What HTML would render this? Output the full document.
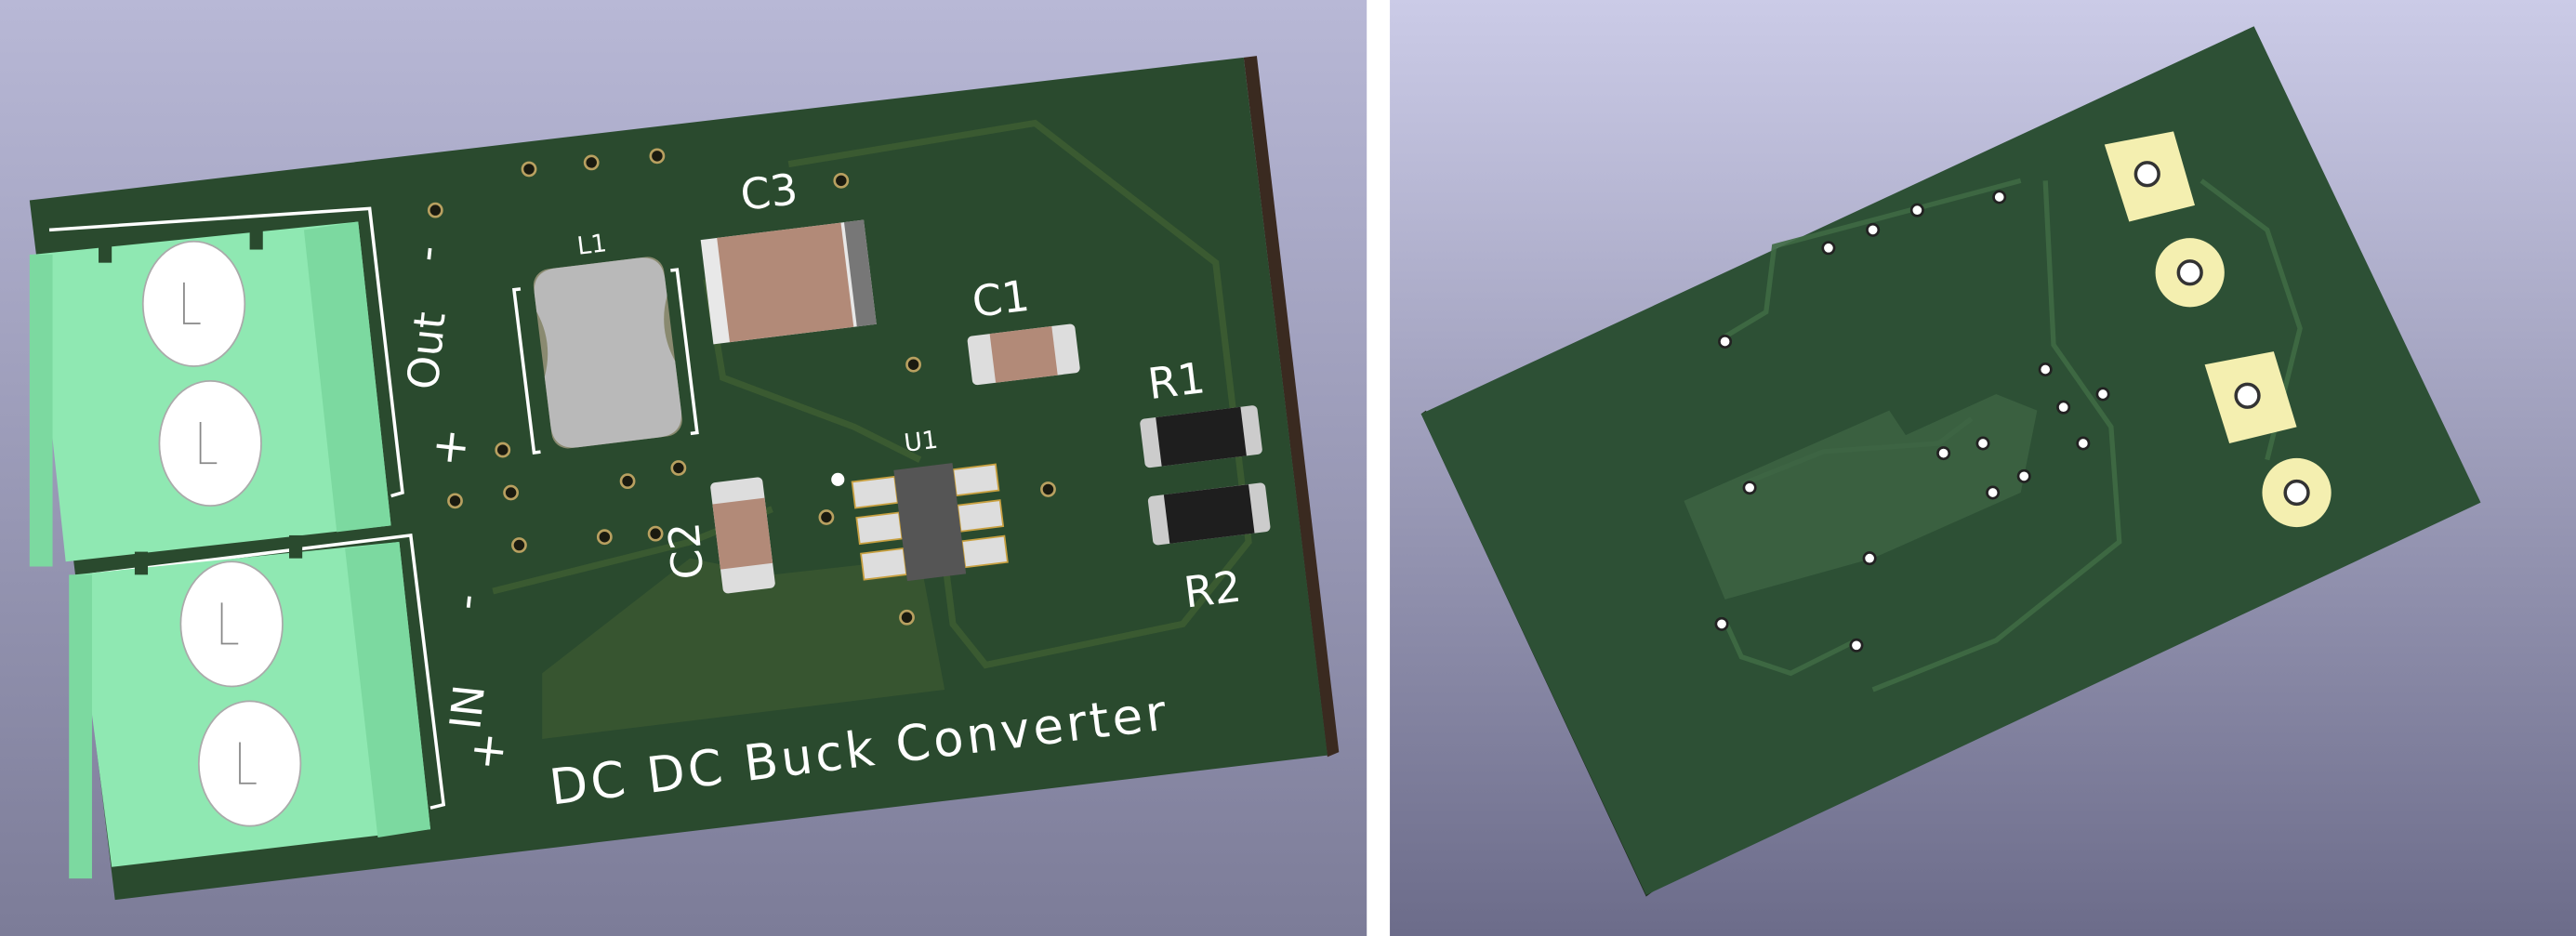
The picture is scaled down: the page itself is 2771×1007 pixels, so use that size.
<!DOCTYPE html>
<html><head><meta charset="utf-8"><style>
html,body{margin:0;padding:0;background:#fff}
svg{display:block}
text{font-family:"DejaVu Sans","Liberation Sans",sans-serif;fill:#fff}
</style></head><body>
<svg width="2771" height="1007" viewBox="0 0 1568 570" preserveAspectRatio="none" xmlns="http://www.w3.org/2000/svg">
<defs>
<linearGradient id="bgL" x1="0" y1="0" x2="0" y2="1"><stop offset="0" stop-color="#b8b8d6"/><stop offset="1" stop-color="#7c7c98"/></linearGradient>
<linearGradient id="bgR" x1="0" y1="0" x2="0" y2="1"><stop offset="0" stop-color="#cbcbe7"/><stop offset="1" stop-color="#6c6c8a"/></linearGradient>
</defs>
<rect x="0" y="0" width="832" height="570" fill="url(#bgL)"/>
<rect x="832" y="0" width="14" height="570" fill="#ffffff"/>
<rect x="846" y="0" width="722" height="570" fill="url(#bgR)"/>

<!-- LEFT BOARD -->
<polygon points="757,35 765,34 815,458 808,461" fill="#3a2a20"/>
<polygon points="18,122 757,35 808,460 70,548" fill="#2a4a2e"/>
<g fill="none" stroke="#3f5e32" stroke-width="4" opacity="0.8">
<polyline points="480,100 630,75 740,160 760,330 720,380 600,405 580,380 570,300"/>
<polyline points="430,170 440,230 520,260 560,280"/>
<polyline points="300,360 420,330 470,310"/>
</g>
<polygon points="330,410 420,340 470,350 560,340 575,420 330,450" fill="#3d5a32" opacity="0.7"/>
<g fill="none" stroke="#fff" stroke-width="2">
<polyline points="30,140 225,127 245,300 238,302"/>
<polyline points="55,350 250,326 270,490 262,492"/>
</g>
<g>
<polygon points="20,155 218,135 238,320 40,342" fill="#8fe8b2"/>
<polygon points="45,350 243,330 262,505 68,528" fill="#8fe8b2"/>
<polygon points="185,140 218,135 238,320 205,324" fill="#7cd9a0"/>
<polygon points="210,334 243,330 262,505 230,510" fill="#7cd9a0"/>
<rect x="18" y="155" width="14" height="190" fill="#7cd9a0"/>
<rect x="42" y="350" width="14" height="185" fill="#7cd9a0"/>
<rect x="60" y="146" width="8" height="14" fill="#2a4a2e"/><rect x="152" y="138" width="8" height="14" fill="#2a4a2e"/>
<rect x="82" y="336" width="8" height="14" fill="#2a4a2e"/><rect x="176" y="326" width="8" height="14" fill="#2a4a2e"/>
</g>
<g fill="#fff" stroke="#aaa" stroke-width="1">
<ellipse cx="118" cy="185" rx="31" ry="38"/>
<ellipse cx="128" cy="270" rx="31" ry="38"/>
<ellipse cx="141" cy="380" rx="31" ry="38"/>
<ellipse cx="152" cy="465" rx="31" ry="38"/>
</g>
<g stroke="#888" stroke-width="1" fill="none">
<path d="M112,172 v25 h10 M122,257 v25 h10 M135,367 v25 h10 M146,452 v25 h10"/>
</g>
<text x="0" y="0" font-size="26" transform="translate(266,238) rotate(-84)">Out</text>
<text x="0" y="0" font-size="26" transform="translate(268,160) rotate(-84)">-</text>
<text x="0" y="0" font-size="28" transform="translate(282,285) rotate(-84)">+</text>
<text x="0" y="0" font-size="26" transform="translate(292,445) rotate(-84)">IN</text>
<text x="0" y="0" font-size="26" transform="translate(292,372) rotate(-84)">-</text>
<text x="0" y="0" font-size="28" transform="translate(305,470) rotate(-84)">+</text>
<text x="0" y="0" font-size="30" transform="translate(336,490) rotate(-7)" letter-spacing="2">DC DC Buck Converter</text>
<text x="0" y="0" font-size="26" transform="translate(452,128) rotate(-7)">C3</text>
<text x="0" y="0" font-size="15" transform="translate(352,155) rotate(-7)">L1</text>
<text x="0" y="0" font-size="26" transform="translate(593,193) rotate(-7)">C1</text>
<text x="0" y="0" font-size="26" transform="translate(700,243) rotate(-7)">R1</text>
<text x="0" y="0" font-size="26" transform="translate(722,370) rotate(-7)">R2</text>
<text x="0" y="0" font-size="15" transform="translate(551,275) rotate(-7)">U1</text>
<text x="0" y="0" font-size="26" transform="translate(428,352) rotate(-95)">C2</text>
<g transform="rotate(-7 368 215)">
<path d="M322,170 h-4 v100 h4 M414,170 h4 v100 h-4" stroke="#fff" stroke-width="2" fill="none"/>
<rect x="330" y="160" width="80" height="110" rx="10" fill="#8a8a70"/>
<path d="M330,175 q0,-15 15,-15 h50 q15,0 15,15 v10 q-8,20 0,40 v30 q0,15 -15,15 h-50 q-15,0 -15,-15 v-30 q8,-20 0,-40z" fill="#b9b9b9"/>
</g>
<g transform="rotate(-7 478 172)">
<rect x="430" y="140" width="100" height="64" fill="#e8e8e8"/>
<rect x="440" y="140" width="76" height="64" fill="#b28a78"/>
<rect x="518" y="140" width="12" height="64" fill="#777"/>
</g>
<g transform="rotate(-7 622 215)">
<rect x="590" y="201" width="66" height="30" rx="3" fill="#ddd"/>
<rect x="604" y="201" width="38" height="30" fill="#b28a78"/>
</g>
<g transform="rotate(-7 730 265)">
<rect x="695" y="251" width="72" height="30" rx="3" fill="#ccc"/>
<rect x="705" y="251" width="52" height="30" fill="#1e1e1e"/>
</g>
<g transform="rotate(-7 736 313)">
<rect x="700" y="298" width="72" height="30" rx="3" fill="#ccc"/>
<rect x="710" y="298" width="52" height="30" fill="#1e1e1e"/>
</g>
<g transform="rotate(-7 452 325)">
<rect x="436" y="292" width="32" height="68" rx="3" fill="#ddd"/>
<rect x="436" y="305" width="32" height="40" fill="#b28a78"/>
</g>
<g transform="rotate(-7 565 318)">
<g fill="#ddd" stroke="#c8a040" stroke-width="1">
<rect x="522" y="288" width="26" height="16"/><rect x="522" y="310" width="26" height="16"/><rect x="522" y="332" width="26" height="16"/>
<rect x="584" y="288" width="26" height="16"/><rect x="584" y="310" width="26" height="16"/><rect x="584" y="332" width="26" height="16"/>
</g>
<rect x="548" y="284" width="36" height="68" fill="#555"/>
</g>
<circle cx="510" cy="292" r="4" fill="#fff"/>
<g fill="#1a1a10" stroke="#b8a060" stroke-width="1.5">
<circle cx="322" cy="103" r="4"/><circle cx="360" cy="99" r="4"/><circle cx="400" cy="95" r="4"/>
<circle cx="265" cy="128" r="4"/><circle cx="512" cy="110" r="4"/><circle cx="556" cy="222" r="4"/>
<circle cx="306" cy="274" r="4"/><circle cx="382" cy="293" r="4"/><circle cx="413" cy="285" r="4"/>
<circle cx="277" cy="305" r="4"/><circle cx="311" cy="300" r="4"/><circle cx="316" cy="332" r="4"/>
<circle cx="368" cy="327" r="4"/><circle cx="399" cy="325" r="4"/><circle cx="503" cy="315" r="4"/>
<circle cx="638" cy="298" r="4"/><circle cx="552" cy="376" r="4"/>
</g>

<!-- RIGHT BOARD -->
<polygon points="865,252 868,250 1006,543 1002,546" fill="#1e2e1e"/>
<polygon points="865,252 1372,16 1510,306 1002,545" fill="#2d5035"/>
<g fill="none" stroke="#3f6a44" stroke-width="3" opacity="0.9">
<polyline points="1050,205 1075,190 1080,150 1230,110"/>
<polyline points="1245,110 1250,210 1285,260 1290,330 1215,390 1140,420"/>
<polyline points="1340,110 1380,140 1400,200 1380,280"/>
<polyline points="1050,378 1060,400 1090,410 1130,390"/>
<polyline points="1060,295 1110,275 1180,270 1200,255"/>
</g>
<polygon points="1025,305 1150,250 1160,265 1215,240 1240,250 1230,300 1140,340 1050,365" fill="#3d6443" opacity="0.8"/>
<g>
<polygon points="1281,88 1323,80 1336,125 1296,135" fill="#f4efb0"/>
<circle cx="1307" cy="106" r="7" fill="#fff" stroke="#333" stroke-width="2"/>
<circle cx="1333" cy="166" r="21" fill="#f4efb0"/>
<circle cx="1333" cy="166" r="7" fill="#fff" stroke="#333" stroke-width="2"/>
<polygon points="1342,222 1384,214 1398,260 1357,270" fill="#f4efb0"/>
<circle cx="1368" cy="241" r="7" fill="#fff" stroke="#333" stroke-width="2"/>
<circle cx="1398" cy="300" r="21" fill="#f4efb0"/>
<circle cx="1398" cy="300" r="7" fill="#fff" stroke="#333" stroke-width="2"/>
</g>
<g fill="#fff" stroke="#222" stroke-width="1.5">
<circle cx="1113" cy="151" r="3.5"/><circle cx="1140" cy="140" r="3.5"/><circle cx="1167" cy="128" r="3.5"/><circle cx="1217" cy="120" r="3.5"/>
<circle cx="1050" cy="208" r="3.5"/><circle cx="1245" cy="225" r="3.5"/><circle cx="1280" cy="240" r="3.5"/>
<circle cx="1256" cy="248" r="3.5"/><circle cx="1268" cy="270" r="3.5"/><circle cx="1207" cy="270" r="3.5"/>
<circle cx="1183" cy="276" r="3.5"/><circle cx="1232" cy="290" r="3.5"/><circle cx="1213" cy="300" r="3.5"/>
<circle cx="1065" cy="297" r="3.5"/><circle cx="1138" cy="340" r="3.5"/><circle cx="1048" cy="380" r="3.5"/><circle cx="1130" cy="393" r="3.5"/>
</g>
</svg>
</body></html>
